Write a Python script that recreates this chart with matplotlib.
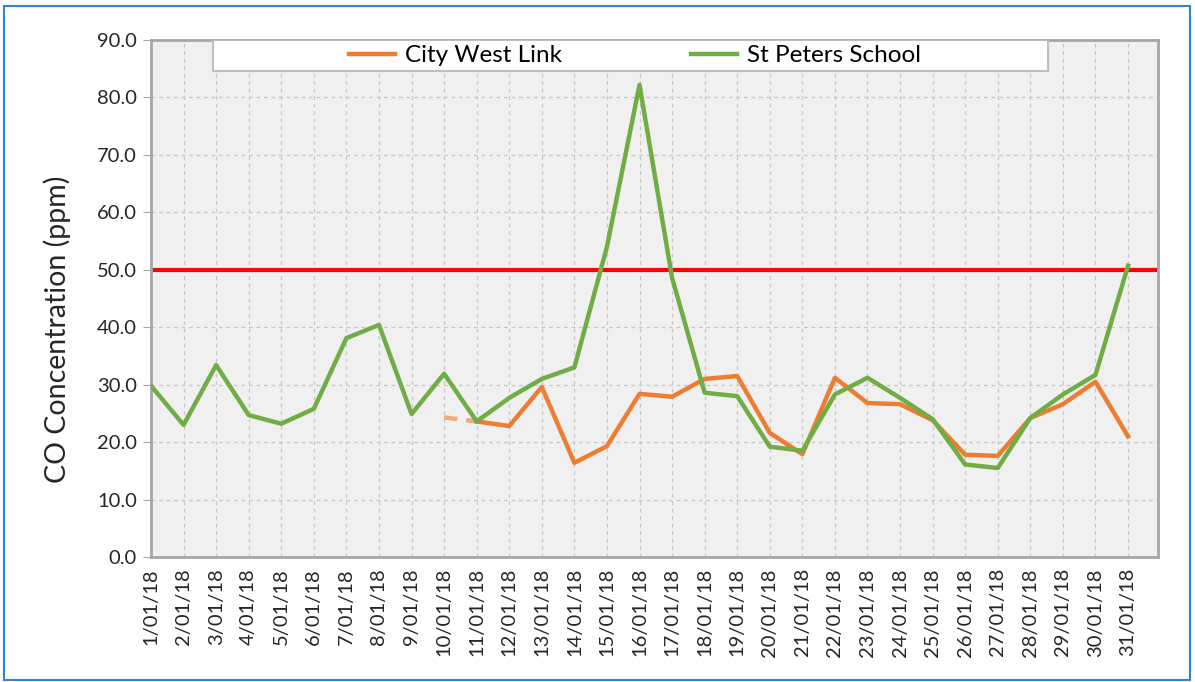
import matplotlib.pyplot as plt
from matplotlib.patches import Rectangle

# daily CO readings, January 2018
days = list(range(1, 32))
date_labels = ["%d/01/18" % d for d in days]

st_peters = [29.8, 23.0, 33.4, 24.7, 23.2, 25.8, 38.1, 40.4, 24.9, 31.9,
             23.6, 27.7, 31.0, 33.0, 54.0, 82.2, 48.6, 28.6, 28.0, 19.2,
             18.5, 28.3, 31.2, 27.7, 24.0, 16.1, 15.5, 24.2, 28.3, 31.7,
             50.7]

# City West Link has no data before 10/01
city_west = [None] * 9 + [24.3, 23.6, 22.8, 29.6, 16.4, 19.3, 28.4, 27.9,
                          31.0, 31.5, 21.6, 17.9, 31.2, 26.8, 26.6, 23.8,
                          17.8, 17.6, 24.2, 26.6, 30.5, 21.0]

limit = 50.0

orange = "#ED7D31"
green = "#70AD47"

plt.rcParams["font.family"] = ["Lato", "DejaVu Sans"]

fig = plt.figure(figsize=(11.95, 6.82), dpi=100)
ax = fig.add_axes([151 / 1195, 1 - 557 / 682, 1007 / 1195, 517 / 682])
ax.set_facecolor("#F0F0F0")

ax.axhline(limit, color="#FF0000", lw=3, zorder=2)

# dashed link between 10/01 and 11/01
ax.plot(days[9:11], city_west[9:11], color=orange, alpha=0.6, lw=3.2,
        ls=(0, (3, 2)), zorder=3)
ax.plot(days[10:], city_west[10:], color=orange, lw=3.2,
        label="City West Link", zorder=3)
ax.plot(days, st_peters, color=green, lw=3.2, label="St Peters School",
        zorder=4)

ax.set_xlim(1, 31.92)
ax.set_ylim(0, 90)
ax.set_yticks(range(0, 91, 10))
ax.set_yticklabels(["%.1f" % v for v in range(0, 91, 10)])
ax.set_xticks(days)
ax.set_xticklabels(date_labels, rotation=90)

ax.grid(True, color="#C6C6C6", ls=(0, (3, 3)), lw=0.9)
ax.set_axisbelow(True)

for s in ax.spines.values():
    s.set_color("#A6A6A6")
    s.set_linewidth(2)

ax.tick_params(axis="y", length=6, color="#A6A6A6", labelsize=14.5,
               labelcolor="#262626", pad=4)
ax.tick_params(axis="x", length=0, labelsize=14.5, labelcolor="#262626",
               pad=8)

ax.set_ylabel("CO Concentration (ppm)", fontsize=20.5, color="#262626")
ax.yaxis.set_label_coords(-0.079, 0.44)

# legend box across the top of the plot area
ax.add_patch(Rectangle((62 / 1007, 1 - 31 / 517), 835 / 1007, 31 / 517,
                       transform=ax.transAxes, facecolor="white",
                       edgecolor="#BFBFBF", lw=1.5, zorder=5))
ax.legend(loc="center", bbox_to_anchor=(0.4806, 1 - 15.5 / 517), ncol=2,
          frameon=False, fontsize=17.5, handlelength=1.9, columnspacing=5.3,
          handletextpad=0.4, borderaxespad=0).set_zorder(6)

# blue outer frame
fig.patches.append(Rectangle((4 / 1195, 2 / 682), 1186 / 1195, 674 / 682,
                             transform=fig.transFigure, fill=False,
                             edgecolor="#2E86D8", lw=1.5))

fig.savefig("out.png", dpi=100)
